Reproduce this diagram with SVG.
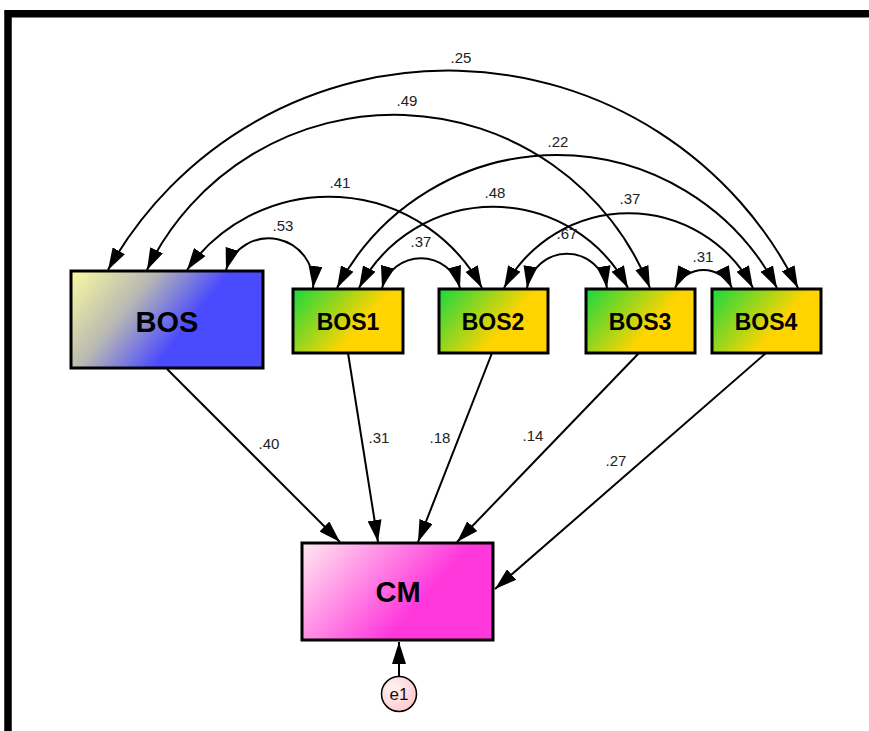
<svg xmlns="http://www.w3.org/2000/svg" width="869" height="731" viewBox="0 0 869 731">
<defs>
<style>
.box{stroke:#000;stroke-width:3}
.ln{fill:none;stroke:#000;stroke-width:2}
.nl{font-family:"Liberation Sans",Arial,sans-serif;font-weight:bold;text-anchor:middle;fill:#000}
.num{font-family:"Liberation Sans",Arial,sans-serif;font-size:15px;text-anchor:middle;fill:#222}
</style>
<linearGradient id="gBOS" x1="0" y1="0" x2="1" y2="0.4">
<stop offset="0" stop-color="#fbfba0"/>
<stop offset="0.38" stop-color="#b8b8b4"/>
<stop offset="0.72" stop-color="#4a4aff"/>
<stop offset="1" stop-color="#4a4aff"/>
</linearGradient>
<linearGradient id="gB" x1="0" y1="0" x2="1" y2="0.5">
<stop offset="0" stop-color="#18d840"/>
<stop offset="0.72" stop-color="#ffd400"/>
<stop offset="1" stop-color="#ffd400"/>
</linearGradient>
<linearGradient id="gCM" x1="0" y1="0" x2="1" y2="0.45">
<stop offset="0" stop-color="#ffeaf0"/>
<stop offset="0.74" stop-color="#ff38dc"/>
<stop offset="1" stop-color="#ff38dc"/>
</linearGradient>
<radialGradient id="gE" cx="0.35" cy="0.35" r="0.8">
<stop offset="0" stop-color="#fff4f4"/>
<stop offset="1" stop-color="#ffc4c8"/>
</radialGradient>
<marker id="ah" viewBox="0 0 22 14" refX="22" refY="7" markerWidth="22" markerHeight="14" markerUnits="userSpaceOnUse" orient="auto-start-reverse">
<path d="M0,0 L22,7 L0,14 z" fill="#000"/>
</marker>
</defs>
<rect width="869" height="731" fill="#fff"/>
<path d="M8,731 V13.7 H869" fill="none" stroke="#000" stroke-width="7.5"/>

<g id="connectors">
<path class="ln" d="M108,270 A390,390 0 0 1 798,288" marker-start="url(#ah)" marker-end="url(#ah)"/>
<path class="ln" d="M147,270 A275,275 0 0 1 650,288" marker-start="url(#ah)" marker-end="url(#ah)"/>
<path class="ln" d="M187,270 A174,174 0 0 1 482,288" marker-start="url(#ah)" marker-end="url(#ah)"/>
<path class="ln" d="M226,270 A44.6,44.6 0 0 1 313,288" marker-start="url(#ah)" marker-end="url(#ah)"/>
<path class="ln" d="M337,288 A248.5,248.5 0 0 1 777,288" marker-start="url(#ah)" marker-end="url(#ah)"/>
<path class="ln" d="M359,288 A152,152 0 0 1 628,288" marker-start="url(#ah)" marker-end="url(#ah)"/>
<path class="ln" d="M382,288 A40.4,40.4 0 0 1 460,288" marker-start="url(#ah)" marker-end="url(#ah)"/>
<path class="ln" d="M504,288 A141,141 0 0 1 753,288" marker-start="url(#ah)" marker-end="url(#ah)"/>
<path class="ln" d="M527,288 A40.5,40.5 0 0 1 607,288" marker-start="url(#ah)" marker-end="url(#ah)"/>
<path class="ln" d="M675,288 A31.6,31.6 0 0 1 732,288" marker-start="url(#ah)" marker-end="url(#ah)"/>
<path class="ln" d="M167,369 L340,542" marker-end="url(#ah)"/>
<path class="ln" d="M348,353 L378,542" marker-end="url(#ah)"/>
<path class="ln" d="M492,353 L418,542" marker-end="url(#ah)"/>
<path class="ln" d="M639,353 L457,542" marker-end="url(#ah)"/>
<path class="ln" d="M766,353 L495,589" marker-end="url(#ah)"/>
<path class="ln" d="M399,676 L399,642" marker-end="url(#ah)"/>
<text class="num" x="461" y="63">.25</text>
<text class="num" x="407" y="106">.49</text>
<text class="num" x="558" y="147">.22</text>
<text class="num" x="340" y="188">.41</text>
<text class="num" x="495" y="198">.48</text>
<text class="num" x="630" y="204">.37</text>
<text class="num" x="283" y="231">.53</text>
<text class="num" x="421" y="247">.37</text>
<text class="num" x="567" y="239">.67</text>
<text class="num" x="703" y="262">.31</text>
<text class="num" x="269" y="449">.40</text>
<text class="num" x="379" y="443">.31</text>
<text class="num" x="440" y="443">.18</text>
<text class="num" x="533" y="441">.14</text>
<text class="num" x="616" y="466">.27</text>
</g>

<g id="BOS">
<rect class="box" x="71" y="271" width="192" height="97" fill="url(#gBOS)"/>
<text class="nl" x="167" y="332" font-size="29">BOS</text>
</g>
<g id="BOS1">
<rect class="box" x="293" y="289" width="110" height="64" fill="url(#gB)"/>
<text class="nl" x="348" y="330" font-size="23">BOS1</text>
</g>
<g id="BOS2">
<rect class="box" x="439" y="289" width="109" height="64" fill="url(#gB)"/>
<text class="nl" x="493" y="330" font-size="23">BOS2</text>
</g>
<g id="BOS3">
<rect class="box" x="586" y="289" width="109" height="64" fill="url(#gB)"/>
<text class="nl" x="640" y="330" font-size="23">BOS3</text>
</g>
<g id="BOS4">
<rect class="box" x="712" y="289" width="109" height="64" fill="url(#gB)"/>
<text class="nl" x="766" y="330" font-size="23">BOS4</text>
</g>
<g id="CM">
<rect class="box" x="302" y="543" width="191" height="97" fill="url(#gCM)"/>
<text class="nl" x="398" y="602" font-size="29">CM</text>
</g>
<g id="e1">
<circle cx="399" cy="694" r="17.5" fill="url(#gE)" stroke="#000" stroke-width="1.5"/>
<text x="399" y="700" font-family="Liberation Sans, Arial, sans-serif" font-size="17" text-anchor="middle" fill="#111">e1</text>
</g>
</svg>
